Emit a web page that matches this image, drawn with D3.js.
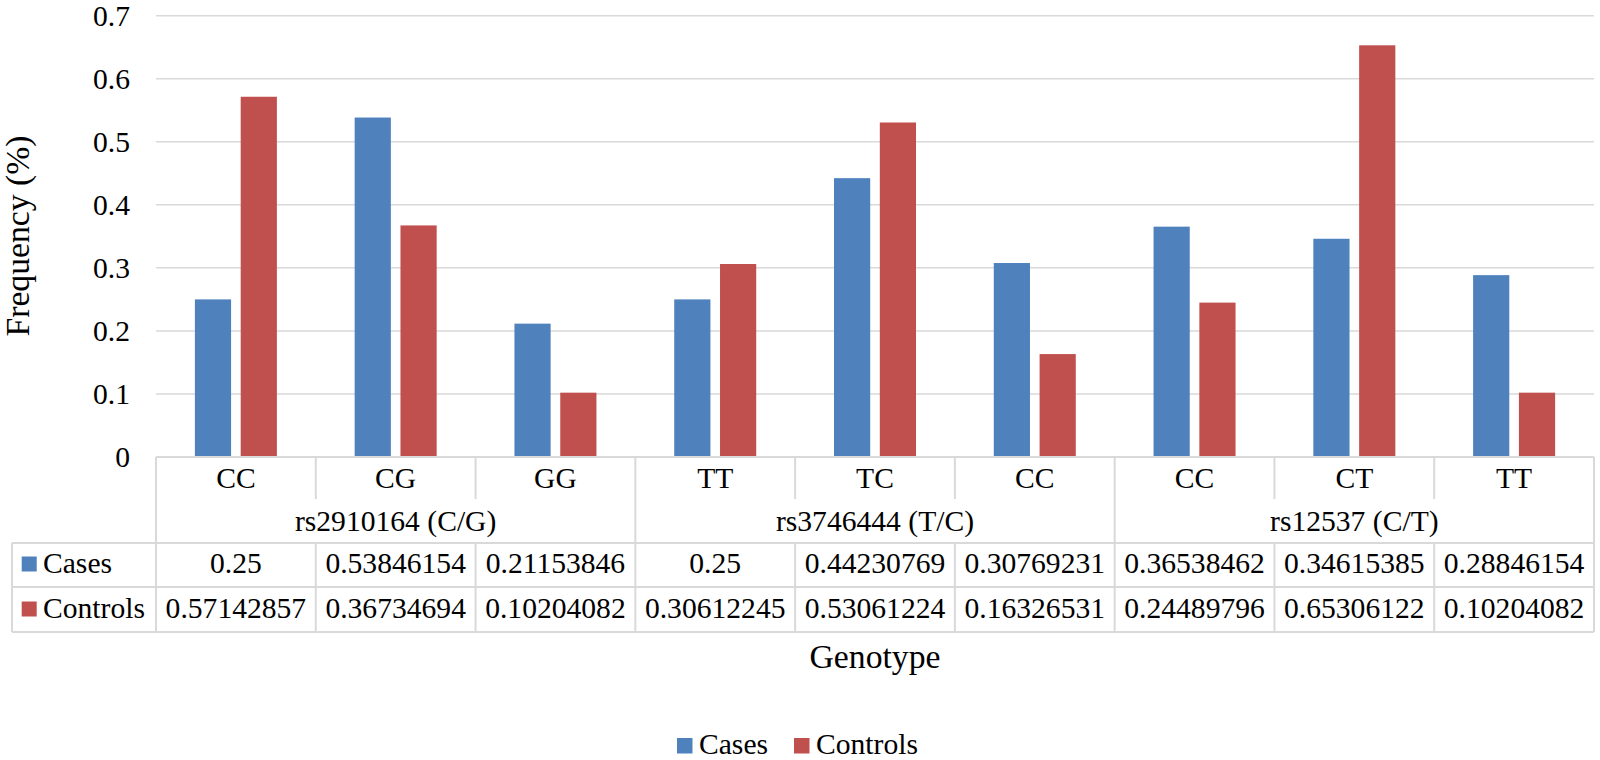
<!DOCTYPE html>
<html>
<head>
<meta charset="utf-8">
<script src="https://cdn.jsdelivr.net/npm/d3@7"></script>
<style>
  html, body { margin: 0; padding: 0; background: #fff; }
</style>
</head>
<body>
<svg id="chart" width="1600" height="760"></svg>
<script>
// ---- data ----
const seriesNames = ["Cases", "Controls"];
const seriesColors = ["#4F81BD", "#C0504D"];
const groups = ["rs2910164 (C/G)", "rs3746444 (T/C)", "rs12537 (C/T)"];
const genotypes = ["CC", "CG", "GG", "TT", "TC", "CC", "CC", "CT", "TT"];
const groupOf = [0, 0, 0, 1, 1, 1, 2, 2, 2];
const cases = [0.25, 0.53846154, 0.21153846, 0.25, 0.44230769, 0.30769231, 0.36538462, 0.34615385, 0.28846154];
const controls = [0.57142857, 0.36734694, 0.10204082, 0.30612245, 0.53061224, 0.16326531, 0.24489796, 0.65306122, 0.10204082];
const yTicks = [0, 0.1, 0.2, 0.3, 0.4, 0.5, 0.6, 0.7];
const yTitle = "Frequency (%)";
const xTitle = "Genotype";

// ---- layout ----
const svg = d3.select("#chart");
const plotL = 156, plotR = 1594, plotT = 15.7, plotB = 457;
const FS = 29.6;
const FS_TITLE = 33.7;
const lineCol = "#d9d9d9";

function txt(sel, size) {
  return sel.style("font-family", "'Liberation Serif', Tinos, 'Times New Roman', serif")
    .style("font-size", (size || FS) + "px").attr("fill", "#000");
}

const idx = d3.range(genotypes.length);
const x = d3.scaleBand().domain(idx).range([plotL, plotR]).padding(0);
const bw = x.bandwidth();
const x1 = d3.scaleBand().domain(seriesNames)
  .range([bw / 2 - 41, bw / 2 + 41]).paddingInner(0.21).paddingOuter(0);
const y = d3.scaleLinear().domain([0, 0.7]).range([plotB, plotT]);

// gridlines
svg.append("g").selectAll("line").data(yTicks.filter(t => t > 0)).join("line")
  .attr("x1", plotL).attr("x2", plotR)
  .attr("y1", d => y(d)).attr("y2", d => y(d))
  .attr("stroke", lineCol).attr("stroke-width", 1.5);

// y axis labels
txt(svg.append("g").selectAll("text").data(yTicks).join("text"))
  .attr("x", 130).attr("y", d => y(d)).attr("dy", "0.34em")
  .attr("text-anchor", "end")
  .text(d => d === 0 ? "0" : d3.format(".1f")(d));

// y title
txt(svg.append("text"), FS_TITLE)
  .attr("transform", `translate(29,236) rotate(-90)`)
  .attr("text-anchor", "middle")
  .text(yTitle);

// bars
const seriesData = [cases, controls];
seriesNames.forEach((s, si) => {
  svg.append("g").selectAll("rect").data(idx).join("rect")
    .attr("x", i => x(i) + x1(s))
    .attr("width", x1.bandwidth())
    .attr("y", i => y(seriesData[si][i]))
    .attr("height", i => y(0) - y(seriesData[si][i]))
    .attr("fill", seriesColors[si]);
});

// ---- data table / multi-level axis ----
const tableL = 12;
const rowAxisB = 543, rowCasesB = 587, rowCtrlB = 632;
const tg = svg.append("g").attr("stroke", lineCol).attr("stroke-width", 2).attr("fill", "none");
tg.append("line").attr("x1", plotL).attr("x2", plotR).attr("y1", plotB).attr("y2", plotB);
[rowAxisB, rowCasesB, rowCtrlB].forEach(yy =>
  tg.append("line").attr("x1", tableL).attr("x2", plotR).attr("y1", yy).attr("y2", yy));
tg.append("line").attr("x1", tableL).attr("x2", tableL).attr("y1", rowAxisB).attr("y2", rowCtrlB);
idx.concat([idx.length]).forEach(i => {
  const xx = i < idx.length ? x(i) : plotR;
  const isGroupEdge = i === 0 || i === idx.length || groupOf[i] !== groupOf[i - 1];
  if (isGroupEdge) {
    tg.append("line").attr("x1", xx).attr("x2", xx).attr("y1", plotB).attr("y2", rowCtrlB);
  } else {
    tg.append("line").attr("x1", xx).attr("x2", xx).attr("y1", plotB).attr("y2", 499);
    tg.append("line").attr("x1", xx).attr("x2", xx).attr("y1", rowAxisB).attr("y2", rowCtrlB);
  }
});

// category labels
txt(svg.append("g").selectAll("text").data(idx).join("text"))
  .attr("x", i => x(i) + bw / 2).attr("y", 488)
  .attr("text-anchor", "middle")
  .text(i => genotypes[i]);

// group labels
txt(svg.append("g").selectAll("text").data(groups).join("text"))
  .attr("x", (g, gi) => {
    const members = idx.filter(i => groupOf[i] === gi);
    return (x(members[0]) + x(members[members.length - 1]) + bw) / 2;
  })
  .attr("y", 531).attr("text-anchor", "middle")
  .text(d => d);

// value rows
const rowBaselines = [573, 618];
seriesNames.forEach((s, si) => {
  txt(svg.append("g").selectAll("text").data(idx).join("text"))
    .attr("x", i => x(i) + bw / 2).attr("y", rowBaselines[si])
    .attr("text-anchor", "middle")
    .text(i => String(seriesData[si][i]));
  svg.append("rect").attr("x", 21.7).attr("y", rowBaselines[si] - 16.5)
    .attr("width", 15).attr("height", 15).attr("fill", seriesColors[si]);
  txt(svg.append("text")).attr("x", 43).attr("y", rowBaselines[si]).text(s);
});

// x title
txt(svg.append("text"), FS_TITLE).attr("x", 875).attr("y", 668)
  .attr("text-anchor", "middle").text(xTitle);

// legend
const legendItems = [{ x: 677, tx: 699 }, { x: 794, tx: 816 }];
seriesNames.forEach((s, si) => {
  svg.append("rect").attr("x", legendItems[si].x).attr("y", 738)
    .attr("width", 15.5).attr("height", 15.5).attr("fill", seriesColors[si]);
  txt(svg.append("text")).attr("x", legendItems[si].tx).attr("y", 754).text(s);
});
</script>
</body>
</html>
